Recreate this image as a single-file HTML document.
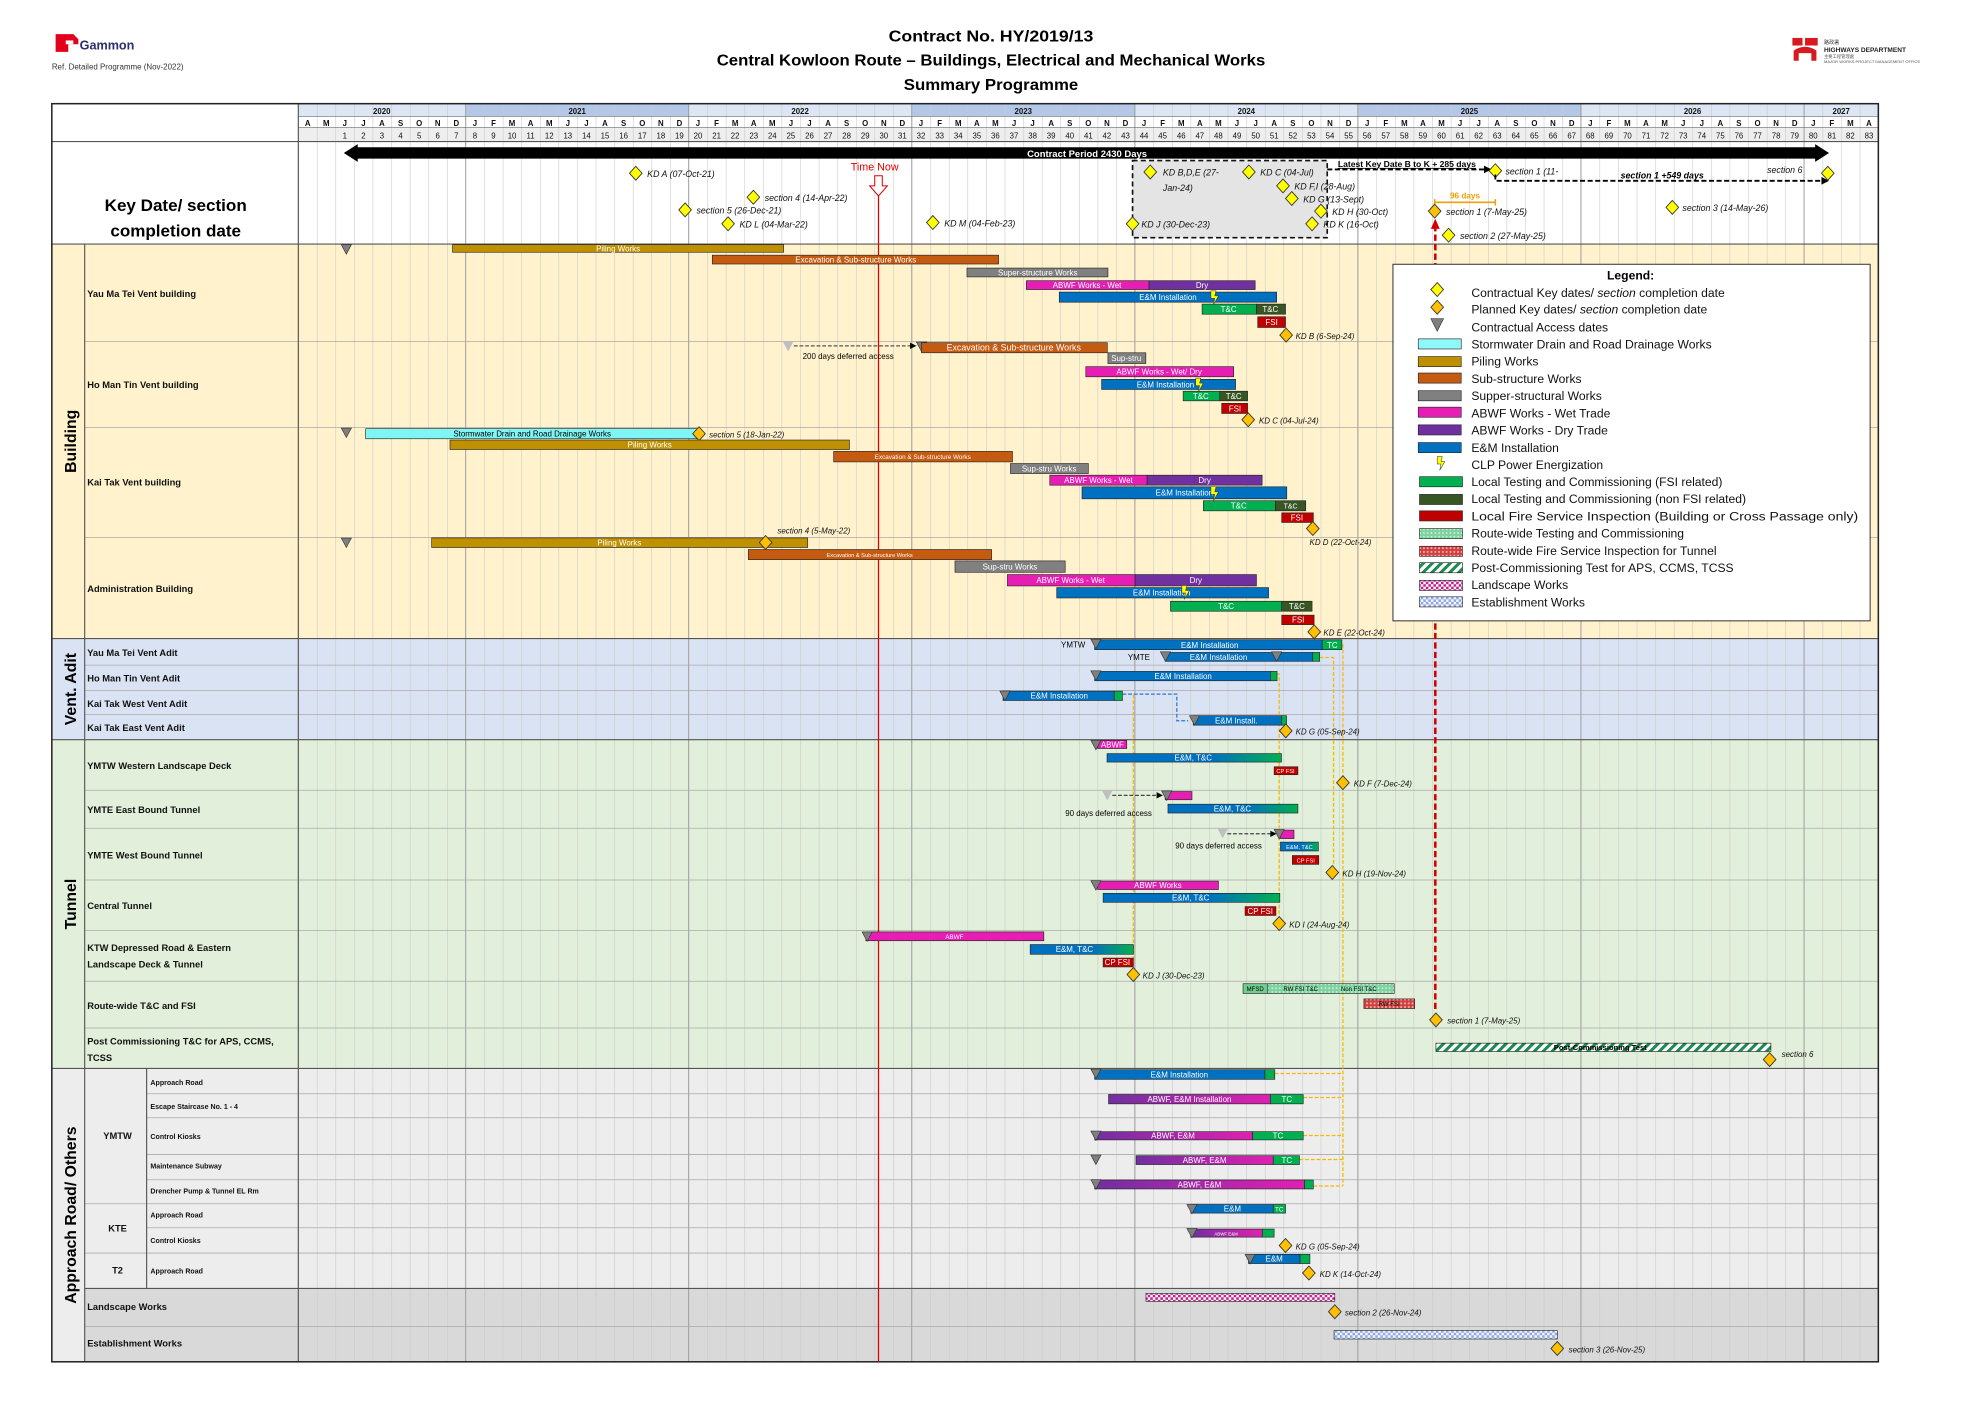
<!DOCTYPE html>
<html><head><meta charset="utf-8"><style>
html,body{margin:0;padding:0;background:#fff}
svg{display:block}
text{font-family:"Liberation Sans",sans-serif}
.b{stroke:#222;stroke-width:.5}
.w{fill:#fff;font-size:6.3px;text-anchor:middle}
.k{fill:#000;font-size:6.3px;text-anchor:middle}
.it{font-style:italic;font-size:7px;fill:#111}
.rl{font-weight:bold;font-size:7.4px;fill:#111}
.sl{font-weight:bold;font-size:5.6px;fill:#111}
.lg{font-size:9.6px;fill:#111}
.hd{font-size:6.2px;font-weight:bold;fill:#111;text-anchor:middle}
</style></head><body>
<svg width="1982" height="1401" viewBox="0 0 1568 1108" preserveAspectRatio="none" xmlns="http://www.w3.org/2000/svg">
<defs>
<pattern id="grid" x="236" y="0" width="14.706" height="10" patternUnits="userSpaceOnUse"><line x1="0.2" y1="0" x2="0.2" y2="10" stroke="#c8c8c8" stroke-width="0.5"/></pattern>
<pattern id="hgreen" width="3" height="3" patternUnits="userSpaceOnUse"><rect width="3" height="3" fill="#7ed3a0"/><circle cx="1.5" cy="1.5" r=".7" fill="#d8f5e2"/></pattern>
<pattern id="hred" width="3" height="3" patternUnits="userSpaceOnUse"><rect width="3" height="3" fill="#d04040"/><circle cx="1.5" cy="1.5" r=".8" fill="#f4b0b0"/></pattern>
<pattern id="diag" width="5" height="5" patternUnits="userSpaceOnUse" patternTransform="rotate(45)"><rect width="5" height="5" fill="#fff"/><rect width="2.4" height="5" fill="#1a8a50"/></pattern>
<pattern id="chkp" width="4" height="4" patternUnits="userSpaceOnUse"><rect width="4" height="4" fill="#fff"/><rect width="2" height="2" fill="#c0208c"/><rect x="2" y="2" width="2" height="2" fill="#c0208c"/></pattern>
<pattern id="chkb" width="4" height="4" patternUnits="userSpaceOnUse"><rect width="4" height="4" fill="#f4f7ff"/><rect width="2" height="2" fill="#8fa8e0"/><rect x="2" y="2" width="2" height="2" fill="#8fa8e0"/></pattern>
<linearGradient id="gEM" x1="0" x2="1"><stop offset="0" stop-color="#0070c0"/><stop offset=".6" stop-color="#0070c0"/><stop offset="1" stop-color="#00b050"/></linearGradient>
<linearGradient id="gAB" x1="0" x2="1"><stop offset="0" stop-color="#7030a0"/><stop offset="1" stop-color="#e020b0"/></linearGradient>
<g id="dY"><path d="M0,-5.5 L5,0 0,5.5 -5,0Z" fill="#ffff00" stroke="#333" stroke-width=".7"/></g>
<g id="dO"><path d="M0,-5.5 L5,0 0,5.5 -5,0Z" fill="#ffc000" stroke="#333" stroke-width=".7"/></g>
<g id="tr"><path d="M-4,-3.5 L4,-3.5 0,4Z" fill="#7f7f7f" stroke="#333" stroke-width=".5"/></g>
<g id="trl"><path d="M-4,-3.5 L4,-3.5 0,4Z" fill="#bfbfbf"/></g>
<g id="lt"><path d="M-3,-5 L1,-5 0,-1 3,-1 -1,6 0,1 -3,1Z" fill="#ffff00" stroke="#333" stroke-width=".4"/></g>
</defs>

<path d="M44,27 h14 l4,4 v4 h-8 v6 h-10z" fill="#e3001b"/>
<rect x="52" y="32" width="6" height="3" fill="#fff"/>
<text x="63" y="39" font-weight="bold" font-size="10" fill="#2b2f6b">Gammon</text>
<text x="41" y="55" font-size="6.3" fill="#333">Ref. Detailed Programme (Nov-2022)</text>
<text x="784" y="33" font-weight="bold" font-size="12.5" text-anchor="middle" textLength="162" lengthAdjust="spacingAndGlyphs">Contract No. HY/2019/13</text>
<text x="784" y="52" font-weight="bold" font-size="12.5" text-anchor="middle" textLength="434" lengthAdjust="spacingAndGlyphs">Central Kowloon Route – Buildings, Electrical and Mechanical Works</text>
<text x="784" y="71" font-weight="bold" font-size="12.5" text-anchor="middle" textLength="138" lengthAdjust="spacingAndGlyphs">Summary Programme</text>
<rect x="1418" y="30" width="8" height="6" fill="#d71920"/><rect x="1428" y="30" width="10" height="6" fill="#d71920"/>
<path d="M1419,48 v-8 q9,-6 18,0 v8 h-4 v-6 h-10 v6z" fill="#d71920"/>
<text x="1443" y="35" font-size="4" fill="#333">路政署</text>
<text x="1443" y="41" font-size="5.2" font-weight="bold" fill="#222">HIGHWAYS DEPARTMENT</text>
<text x="1443" y="46" font-size="3.4" fill="#555">主要工程管理處</text>
<text x="1443" y="50" font-size="3.2" fill="#555">MAJOR WORKS PROJECT MANAGEMENT OFFICE</text>

<rect x="41" y="112" width="1445" height="81" fill="#fff"/>
<rect x="41" y="193" width="1445" height="312" fill="#fff2cc"/>
<rect x="41" y="505" width="1445" height="80" fill="#dae3f3"/>
<rect x="41" y="585" width="1445" height="260" fill="#e2efda"/>
<rect x="41" y="845" width="1445" height="232" fill="#ededed"/>
<rect x="67" y="1019" width="1419" height="58" fill="#d9d9d9"/>
<rect x="236" y="82" width="132.4" height="10" fill="#dce6f4"/>
<rect x="368.4" y="82" width="176.4" height="10" fill="#b4c7e7"/>
<rect x="544.8" y="82" width="176.5" height="10" fill="#dce6f4"/>
<rect x="721.3" y="82" width="176.5" height="10" fill="#b4c7e7"/>
<rect x="897.8" y="82" width="176.4" height="10" fill="#dce6f4"/>
<rect x="1074.2" y="82" width="176.5" height="10" fill="#b4c7e7"/>
<rect x="1250.7" y="82" width="176.5" height="10" fill="#dce6f4"/>
<rect x="1427.2" y="82" width="58.8" height="10" fill="#dce6f4"/>
<rect x="236" y="101" width="1250" height="11" fill="#eeeeee"/>
<rect x="236" y="82" width="1250" height="995" fill="url(#grid)"/>
<g stroke="#999" stroke-width=".7">
<line x1="368.4" y1="82" x2="368.4" y2="1077"/><line x1="544.8" y1="82" x2="544.8" y2="1077"/><line x1="721.3" y1="82" x2="721.3" y2="1077"/><line x1="897.8" y1="82" x2="897.8" y2="1077"/><line x1="1074.2" y1="82" x2="1074.2" y2="1077"/><line x1="1250.7" y1="82" x2="1250.7" y2="1077"/><line x1="1427.2" y1="82" x2="1427.2" y2="1077"/>
</g>
<g stroke="#666" stroke-width=".5">
<line x1="236" y1="92" x2="1486" y2="92"/><line x1="236" y1="101" x2="1486" y2="101"/>
</g>
<text class="hd" y="90"><tspan x="302">2020</tspan><tspan x="456.6">2021</tspan><tspan x="633">2022</tspan><tspan x="809.5">2023</tspan><tspan x="986">2024</tspan><tspan x="1162.5">2025</tspan><tspan x="1339">2026</tspan><tspan x="1456.6">2027</tspan></text>
<text class="hd" y="99.5" text-anchor="middle" x="243.4 258.1 272.8 287.5 302.2 316.9 331.6 346.3 361 375.7 390.4 405.1 419.8 434.5 449.2 463.9 478.6 493.4 508.1 522.8 537.5 552.2 566.9 581.6 596.3 611 625.7 640.4 655.1 669.8 684.5 699.2 713.9 728.6 743.4 758.1 772.8 787.5 802.2 816.9 831.6 846.3 861 875.7 890.4 905.1 919.8 934.5 949.2 963.9 978.6 993.4 1008.1 1022.8 1037.5 1052.2 1066.9 1081.6 1096.3 1111 1125.7 1140.4 1155.1 1169.8 1184.5 1199.2 1213.9 1228.6 1243.4 1258.1 1272.8 1287.5 1302.2 1316.9 1331.6 1346.3 1361 1375.7 1390.4 1405.1 1419.8 1434.5 1449.2 1463.9 1478.6">AMJJASONDJFMAMJJASONDJFMAMJJASONDJFMAMJJASONDJFMAMJJASONDJFMAMJJASONDJFMAMJJASONDJFMA</text>
<text class="hd" y="109.5" style="font-weight:normal"><tspan x="272.8">1</tspan><tspan x="287.5">2</tspan><tspan x="302.2">3</tspan><tspan x="316.9">4</tspan><tspan x="331.6">5</tspan><tspan x="346.3">6</tspan><tspan x="361">7</tspan><tspan x="375.7">8</tspan><tspan x="390.4">9</tspan><tspan x="405.1">10</tspan><tspan x="419.8">11</tspan><tspan x="434.5">12</tspan><tspan x="449.2">13</tspan><tspan x="463.9">14</tspan><tspan x="478.6">15</tspan><tspan x="493.4">16</tspan><tspan x="508.1">17</tspan><tspan x="522.8">18</tspan><tspan x="537.5">19</tspan><tspan x="552.2">20</tspan><tspan x="566.9">21</tspan><tspan x="581.6">22</tspan><tspan x="596.3">23</tspan><tspan x="611">24</tspan><tspan x="625.7">25</tspan><tspan x="640.4">26</tspan><tspan x="655.1">27</tspan><tspan x="669.8">28</tspan><tspan x="684.5">29</tspan><tspan x="699.2">30</tspan><tspan x="713.9">31</tspan><tspan x="728.6">32</tspan><tspan x="743.4">33</tspan><tspan x="758.1">34</tspan><tspan x="772.8">35</tspan><tspan x="787.5">36</tspan><tspan x="802.2">37</tspan><tspan x="816.9">38</tspan><tspan x="831.6">39</tspan><tspan x="846.3">40</tspan><tspan x="861">41</tspan><tspan x="875.7">42</tspan><tspan x="890.4">43</tspan><tspan x="905.1">44</tspan><tspan x="919.8">45</tspan><tspan x="934.5">46</tspan><tspan x="949.2">47</tspan><tspan x="963.9">48</tspan><tspan x="978.6">49</tspan><tspan x="993.4">50</tspan><tspan x="1008.1">51</tspan><tspan x="1022.8">52</tspan><tspan x="1037.5">53</tspan><tspan x="1052.2">54</tspan><tspan x="1066.9">55</tspan><tspan x="1081.6">56</tspan><tspan x="1096.3">57</tspan><tspan x="1111">58</tspan><tspan x="1125.7">59</tspan><tspan x="1140.4">60</tspan><tspan x="1155.1">61</tspan><tspan x="1169.8">62</tspan><tspan x="1184.5">63</tspan><tspan x="1199.2">64</tspan><tspan x="1213.9">65</tspan><tspan x="1228.6">66</tspan><tspan x="1243.4">67</tspan><tspan x="1258.1">68</tspan><tspan x="1272.8">69</tspan><tspan x="1287.5">70</tspan><tspan x="1302.2">71</tspan><tspan x="1316.9">72</tspan><tspan x="1331.6">73</tspan><tspan x="1346.3">74</tspan><tspan x="1361">75</tspan><tspan x="1375.7">76</tspan><tspan x="1390.4">77</tspan><tspan x="1405.1">78</tspan><tspan x="1419.8">79</tspan><tspan x="1434.5">80</tspan><tspan x="1449.2">81</tspan><tspan x="1463.9">82</tspan><tspan x="1478.6">83</tspan></text>

<rect x="41" y="82" width="195" height="111" fill="#fff"/>
<rect x="41" y="193" width="195" height="312" fill="#fff2cc"/>
<rect x="41" y="505" width="195" height="80" fill="#dae3f3"/>
<rect x="41" y="585" width="195" height="260" fill="#e2efda"/>
<rect x="41" y="845" width="195" height="232" fill="#ededed"/>
<rect x="67" y="1019" width="169" height="58" fill="#d9d9d9"/>

<g stroke="#aaa" stroke-width=".6">
<line x1="67" y1="270" x2="1486" y2="270"/><line x1="67" y1="338" x2="1486" y2="338"/><line x1="67" y1="425" x2="1486" y2="425"/>
<line x1="67" y1="526" x2="1486" y2="526"/><line x1="67" y1="546" x2="1486" y2="546"/><line x1="67" y1="565" x2="1486" y2="565"/>
<line x1="67" y1="625" x2="1486" y2="625"/><line x1="67" y1="655" x2="1486" y2="655"/><line x1="67" y1="696" x2="1486" y2="696"/><line x1="67" y1="736" x2="1486" y2="736"/><line x1="67" y1="776" x2="1486" y2="776"/><line x1="67" y1="813" x2="1486" y2="813"/>
<line x1="116" y1="865" x2="1486" y2="865"/><line x1="116" y1="884" x2="1486" y2="884"/><line x1="116" y1="913" x2="1486" y2="913"/><line x1="116" y1="933" x2="1486" y2="933"/><line x1="67" y1="952" x2="1486" y2="952"/><line x1="116" y1="971" x2="1486" y2="971"/><line x1="67" y1="991" x2="1486" y2="991"/><line x1="67" y1="1049" x2="1486" y2="1049"/>
</g>
<g stroke="#555" stroke-width=".9">
<line x1="41" y1="112" x2="1486" y2="112"/><line x1="41" y1="193" x2="1486" y2="193"/><line x1="41" y1="505" x2="1486" y2="505"/><line x1="41" y1="585" x2="1486" y2="585"/><line x1="41" y1="845" x2="1486" y2="845"/><line x1="67" y1="1019" x2="1486" y2="1019"/>
<line x1="67" y1="193" x2="67" y2="1077"/><line x1="236" y1="82" x2="236" y2="1077"/><line x1="116" y1="845" x2="116" y2="1019"/>
</g>
<rect x="41" y="82" width="1445" height="995" fill="none" stroke="#222" stroke-width="1.2"/>

<text x="139" y="167" text-anchor="middle" font-size="13.5" font-weight="bold">Key Date/ section</text>
<text x="139" y="187" text-anchor="middle" font-size="13.5" font-weight="bold">completion date</text>
<g font-weight="bold" font-size="12.5" text-anchor="middle">
<text transform="rotate(-90 60 349)" x="60" y="349">Building</text>
<text transform="rotate(-90 60 545)" x="60" y="545">Vent. Adit</text>
<text transform="rotate(-90 60 715)" x="60" y="715">Tunnel</text>
<text transform="rotate(-90 60 961)" x="60" y="961">Approach Road/ Others</text>
</g>
<text class="rl" x="69" y="235">Yau Ma Tei Vent building</text>
<text class="rl" x="69" y="307">Ho Man Tin Vent building</text>
<text class="rl" x="69" y="384">Kai Tak Vent building</text>
<text class="rl" x="69" y="468">Administration Building</text>
<text class="rl" x="69" y="519">Yau Ma Tei Vent Adit</text>
<text class="rl" x="69" y="539">Ho Man Tin Vent Adit</text>
<text class="rl" x="69" y="559">Kai Tak West Vent Adit</text>
<text class="rl" x="69" y="578">Kai Tak East Vent Adit</text>
<text class="rl" x="69" y="608">YMTW Western Landscape Deck</text>
<text class="rl" x="69" y="643">YMTE East Bound Tunnel</text>
<text class="rl" x="69" y="679">YMTE West Bound Tunnel</text>
<text class="rl" x="69" y="719">Central Tunnel</text>
<text class="rl" x="69" y="752">KTW Depressed Road &amp; Eastern</text>
<text class="rl" x="69" y="765">Landscape Deck &amp; Tunnel</text>
<text class="rl" x="69" y="798">Route-wide T&amp;C and FSI</text>
<text class="rl" x="69" y="826">Post Commissioning T&amp;C for APS, CCMS,</text>
<text class="rl" x="69" y="839">TCSS</text>
<text class="rl" x="93" y="901" text-anchor="middle">YMTW</text>
<text class="rl" x="93" y="974" text-anchor="middle">KTE</text>
<text class="rl" x="93" y="1007" text-anchor="middle">T2</text>
<text class="sl" x="119" y="858">Approach Road</text>
<text class="sl" x="119" y="877">Escape Staircase No. 1 - 4</text>
<text class="sl" x="119" y="901">Control Kiosks</text>
<text class="sl" x="119" y="924">Maintenance Subway</text>
<text class="sl" x="119" y="944">Drencher Pump &amp; Tunnel EL Rm</text>
<text class="sl" x="119" y="963">Approach Road</text>
<text class="sl" x="119" y="983">Control Kiosks</text>
<text class="sl" x="119" y="1007">Approach Road</text>
<text class="rl" x="69" y="1036">Landscape Works</text>
<text class="rl" x="69" y="1065">Establishment Works</text>

<rect x="896" y="127" width="154" height="61" fill="#e4e4e4" stroke="#111" stroke-width="1.3" stroke-dasharray="4,2.5"/>
<path d="M272,121 L283,114 V116.5 H1436 V114 L1447,121 L1436,128 V125.5 H283 V128Z" fill="#000"/>
<text x="860" y="124" fill="#fff" font-weight="bold" font-size="7.5" text-anchor="middle">Contract Period 2430 Days</text>
<use href="#dY" x="503" y="137"/><text class="it" x="512" y="140">KD A (07-Oct-21)</text>
<use href="#dY" x="596" y="156"/><text class="it" x="605" y="159">section 4 (14-Apr-22)</text>
<use href="#dY" x="542" y="166"/><text class="it" x="551" y="169">section 5 (26-Dec-21)</text>
<use href="#dY" x="576" y="177"/><text class="it" x="585" y="180">KD L (04-Mar-22)</text>
<use href="#dY" x="738" y="176"/><text class="it" x="747" y="179">KD M (04-Feb-23)</text>
<use href="#dY" x="910" y="136"/><text class="it" x="920" y="139">KD B,D,E (27-</text><text class="it" x="920" y="151">Jan-24)</text>
<use href="#dY" x="988" y="136"/><text class="it" x="997" y="139">KD C (04-Jul)</text>
<use href="#dY" x="1015" y="147"/><text class="it" x="1024" y="150">KD F,I (28-Aug)</text>
<use href="#dY" x="1022" y="157"/><text class="it" x="1031" y="160">KD G (13-Sept)</text>
<use href="#dY" x="1045" y="167"/><text class="it" x="1054" y="170">KD H (30-Oct)</text>
<use href="#dY" x="1038" y="177"/><text class="it" x="1047" y="180">KD K (16-Oct)</text>
<use href="#dY" x="896" y="177"/><text class="it" x="903" y="180">KD J (30-Dec-23)</text>
<line x1="1050" y1="134" x2="1175" y2="134" stroke="#000" stroke-width="1.4" stroke-dasharray="4,2"/><path d="M1174,131 L1180,134 1174,137Z"/>
<text x="1113" y="132" font-weight="bold" font-size="6.8" text-anchor="middle" text-decoration="underline">Latest Key Date B to K + 285 days</text>
<use href="#dY" x="1183" y="135"/><text class="it" x="1191" y="138">section 1 (11-</text>
<path d="M1183,138 V143 H1442" fill="none" stroke="#000" stroke-width="1.4" stroke-dasharray="4,2"/><path d="M1441,140 L1447,143 1441,146Z"/>
<text x="1315" y="141" font-weight="bold" font-style="italic" font-size="7" text-anchor="middle">section 1 +549 days</text>
<text class="it" x="1398" y="137">section 6</text><use href="#dY" x="1446" y="137"/>
<use href="#dY" x="1323" y="164"/><text class="it" x="1331" y="167">section 3 (14-May-26)</text>
<text x="1159" y="157" font-weight="bold" font-size="6.5" fill="#f0a000" text-anchor="middle">96 days</text>
<path d="M1135,160 H1183 M1135,157.5 V162.5 M1183,157.5 V162.5" stroke="#f0a000" stroke-width="1.2" fill="none"/>
<use href="#dY" x="1146" y="186"/><text class="it" x="1155" y="189">section 2 (27-May-25)</text>
<line x1="1135.5" y1="178" x2="1135.5" y2="800" stroke="#d00000" stroke-width="2" stroke-dasharray="5,2.5"/>
<path d="M1132,181 L1135.5,173 1139,181Z" fill="#d00000"/>
<use href="#dO" x="1135" y="167"/><text class="it" x="1144" y="170">section 1 (7-May-25)</text>

<line x1="695" y1="155" x2="695" y2="1077" stroke="#e00000" stroke-width="1"/>
<text x="692" y="135" fill="#e00000" font-size="8.5" text-anchor="middle">Time Now</text>
<path d="M692,139 H698 V147 H702 L695,155 688,147 H692Z" fill="#fff" stroke="#e00000" stroke-width=".8"/>

<use href="#tr" x="274" y="197"/>
<rect class="b" x="358" y="193.5" width="262" height="6" fill="#bf9000"/><text class="w" x="489" y="198.8">Piling Works</text>
<rect class="b" x="563.5" y="201.8" width="226.5" height="7" fill="#c55a11"/><text class="w" x="677" y="207.5">Excavation &amp; Sub-structure Works</text>
<rect class="b" x="765" y="212" width="111.5" height="7" fill="#808080"/><text class="w" x="821" y="217.8">Super-structure Works</text>
<rect class="b" x="812" y="222" width="97" height="7" fill="#e61eb4"/><text class="w" x="860" y="227.8">ABWF Works - Wet</text>
<rect class="b" x="909" y="222" width="84" height="7" fill="#7030a0"/><text class="w" x="951" y="227.8">Dry</text>
<rect class="b" x="838" y="231" width="172" height="8" fill="#0070c0"/><text class="w" x="924" y="237.3">E&amp;M Installation</text>
<rect class="b" x="951" y="240.5" width="43" height="8" fill="#00b050"/><text class="w" x="972" y="246.8">T&amp;C</text>
<rect class="b" x="994" y="240.5" width="23" height="8" fill="#375623"/><text class="w" x="1005" y="246.8">T&amp;C</text>
<rect class="b" x="995" y="250.5" width="22" height="8.5" fill="#c00000"/><text class="w" x="1006" y="257">FSI</text>
<use href="#lt" x="961" y="235"/>
<use href="#dO" x="1017.5" y="265"/><text class="it" x="1025" y="268" style="font-size:6.3px">KD B (6-Sep-24)</text>

<use href="#trl" x="623.5" y="274"/>
<line x1="628" y1="273.5" x2="722" y2="273.5" stroke="#555" stroke-width="1" stroke-dasharray="3,1.5"/><path d="M720,271 L725,273.5 720,276Z"/>
<use href="#tr" x="729" y="274"/>
<text x="671" y="284" font-size="6.3" text-anchor="middle">200 days deferred access</text>
<rect class="b" x="729" y="271" width="147" height="8" fill="#c55a11"/><text class="w" x="802" y="277.3" style="font-size:7px">Excavation &amp; Sub-structure Works</text>
<rect class="b" x="876.5" y="279" width="30" height="8.5" fill="#808080"/><text class="w" x="891" y="285.5">Sup-stru</text>
<rect class="b" x="859" y="290" width="117" height="8" fill="#e61eb4"/><text class="w" x="917" y="296.3">ABWF Works - Wet/ Dry</text>
<rect class="b" x="871.5" y="300" width="106" height="8" fill="#0070c0"/><text class="w" x="922" y="306.3">E&amp;M Installation</text>
<rect class="b" x="936" y="309.4" width="29" height="7.6" fill="#00b050"/><text class="w" x="950" y="315.5">T&amp;C</text>
<rect class="b" x="965" y="309.4" width="22" height="7.6" fill="#375623"/><text class="w" x="976" y="315.5">T&amp;C</text>
<rect class="b" x="966.5" y="319" width="20.5" height="8" fill="#c00000"/><text class="w" x="977" y="325.3">FSI</text>
<use href="#lt" x="949" y="304"/>
<use href="#dO" x="987.5" y="332"/><text class="it" x="996" y="335" style="font-size:6.3px">KD C (04-Jul-24)</text>

<use href="#tr" x="274" y="342"/>
<rect class="b" x="289.3" y="339" width="263.7" height="8" fill="#7ff5f5"/><text class="k" x="421" y="345.3">Stormwater Drain and Road Drainage Works</text>
<use href="#dO" x="553" y="343"/><text class="it" x="561" y="346" style="font-size:6.3px">section 5 (18-Jan-22)</text>
<rect class="b" x="356" y="348" width="316" height="7.5" fill="#bf9000"/><text class="w" x="514" y="354">Piling Works</text>
<rect class="b" x="659.5" y="357" width="141.5" height="8.3" fill="#c55a11"/><text class="w" x="730" y="363" style="font-size:5px">Excavation &amp; Sub-structure Works</text>
<rect class="b" x="799.4" y="366.6" width="61.6" height="7.9" fill="#808080"/><text class="w" x="830" y="372.8">Sup-stru Works</text>
<rect class="b" x="830.5" y="375.8" width="77" height="7.9" fill="#e61eb4"/><text class="w" x="869" y="382">ABWF Works - Wet</text>
<rect class="b" x="907.5" y="375.8" width="91" height="7.9" fill="#7030a0"/><text class="w" x="953" y="382">Dry</text>
<rect class="b" x="856" y="385" width="162" height="9.5" fill="#0070c0"/><text class="w" x="937" y="392">E&amp;M Installation</text>
<rect class="b" x="952" y="396" width="57" height="8" fill="#00b050"/><text class="w" x="980" y="402.3">T&amp;C</text>
<rect class="b" x="1009" y="396" width="24" height="8" fill="#375623"/><text class="w" x="1021" y="402.3" style="font-size:5.5px">T&amp;C</text>
<rect class="b" x="1014" y="405.6" width="25" height="7.6" fill="#c00000"/><text class="w" x="1026" y="411.6">FSI</text>
<use href="#lt" x="961" y="390"/>
<use href="#dO" x="1038.6" y="418"/><text class="it" x="1036" y="431" style="font-size:6.3px">KD D (22-Oct-24)</text>

<text class="it" x="615" y="422" style="font-size:6.3px">section 4 (5-May-22)</text>
<use href="#tr" x="274" y="429"/>
<rect class="b" x="341.5" y="425.4" width="297.5" height="7.6" fill="#bf9000"/><text class="w" x="490" y="431.5">Piling Works</text>
<use href="#dO" x="605.7" y="429"/>
<rect class="b" x="592" y="434.6" width="192.5" height="8" fill="#c55a11"/><text class="w" x="688" y="440.5" style="font-size:4.5px">Excavation &amp; Sub-structure Works</text>
<rect class="b" x="755.5" y="443.6" width="87.2" height="9" fill="#808080"/><text class="w" x="799" y="450.5">Sup-stru Works</text>
<rect class="b" x="797" y="454.4" width="101" height="9" fill="#e61eb4"/><text class="w" x="847" y="461.2">ABWF Works - Wet</text>
<rect class="b" x="898" y="454.4" width="96" height="9" fill="#7030a0"/><text class="w" x="946" y="461.2">Dry</text>
<rect class="b" x="836" y="464.7" width="167.6" height="8.2" fill="#0070c0"/><text class="w" x="919" y="471">E&amp;M Installation</text>
<rect class="b" x="926" y="475.5" width="88" height="7.9" fill="#00b050"/><text class="w" x="970" y="481.7">T&amp;C</text>
<rect class="b" x="1014" y="475.5" width="24" height="7.9" fill="#375623"/><text class="w" x="1026" y="481.7">T&amp;C</text>
<rect class="b" x="1014" y="486.5" width="25.6" height="7.5" fill="#c00000"/><text class="w" x="1027" y="492.4">FSI</text>
<use href="#lt" x="938" y="468"/>
<use href="#dO" x="1039.7" y="499.7"/><text class="it" x="1047" y="502.5" style="font-size:6.3px">KD E (22-Oct-24)</text>

<rect x="1102" y="209" width="377.5" height="282" fill="#fff" stroke="#333" stroke-width=".8"/>
<text x="1290" y="221" font-weight="bold" font-size="9.6" text-anchor="middle">Legend:</text>
<use href="#dY" x="1137" y="229"/>
<use href="#dO" x="1137" y="243"/>
<path d="M1132,252 L1142,252 1137,262Z" fill="#7f7f7f" stroke="#333" stroke-width=".5"/>
<g class="b" stroke-width=".7">
<rect x="1122" y="268" width="34" height="8" fill="#8ff8f8"/>
<rect x="1122" y="282" width="34" height="8" fill="#bf9000"/>
<rect x="1122" y="295" width="34" height="8" fill="#c55a11"/>
<rect x="1122" y="309" width="34" height="8" fill="#808080"/>
<rect x="1122" y="322" width="34" height="8" fill="#e61eb4"/>
<rect x="1122" y="336" width="34" height="8" fill="#7030a0"/>
<rect x="1122" y="350" width="34" height="8" fill="#0070c0"/>
<rect x="1123" y="377" width="34" height="8" fill="#00b050"/>
<rect x="1123" y="391" width="34" height="8" fill="#375623"/>
<rect x="1123" y="404" width="34" height="8" fill="#c00000"/>
<rect x="1123" y="418" width="34" height="8" fill="url(#hgreen)"/>
<rect x="1123" y="432" width="34" height="8" fill="url(#hred)"/>
<rect x="1123" y="445" width="34" height="8" fill="url(#diag)"/>
<rect x="1123" y="459" width="34" height="8" fill="url(#chkp)"/>
<rect x="1123" y="472" width="34" height="8" fill="url(#chkb)"/>
</g>
<use href="#lt" x="1140" y="366"/>
<g class="lg">
<text x="1164" y="235">Contractual Key dates/ <tspan font-style="italic">section</tspan> completion date</text>
<text x="1164" y="248">Planned Key dates/ <tspan font-style="italic">section</tspan> completion date</text>
<text x="1164" y="262">Contractual Access dates</text>
<text x="1164" y="275.5">Stormwater Drain and Road Drainage Works</text>
<text x="1164" y="289">Piling Works</text>
<text x="1164" y="303">Sub-structure Works</text>
<text x="1164" y="316.5">Supper-structural Works</text>
<text x="1164" y="330">ABWF Works - Wet Trade</text>
<text x="1164" y="343.5">ABWF Works - Dry Trade</text>
<text x="1164" y="357.5">E&amp;M Installation</text>
<text x="1164" y="371">CLP Power Energization</text>
<text x="1164" y="384.5">Local Testing and Commissioning (FSI related)</text>
<text x="1164" y="398">Local Testing and Commissioning (non FSI related)</text>
<text x="1164" y="411.5" textLength="306" lengthAdjust="spacingAndGlyphs">Local Fire Service Inspection (Building or Cross Passage only)</text>
<text x="1164" y="425">Route-wide Testing and Commissioning</text>
<text x="1164" y="439">Route-wide Fire Service Inspection for Tunnel</text>
<text x="1164" y="452.5">Post-Commissioning Test for APS, CCMS, TCSS</text>
<text x="1164" y="466">Landscape Works</text>
<text x="1164" y="479.5">Establishment Works</text>
</g>

<g stroke="#f5b800" stroke-width="1" stroke-dasharray="3,1.5" fill="none">
<path d="M888,549 H896.6 V766"/>
<path d="M1010,533 H1012 V725"/>
<path d="M1044,520 H1055 V685"/>
<path d="M1061.6,510 H1062.4 V938"/>
<path d="M1008.5,849 H1062.4"/><path d="M1031,868 H1062.4"/><path d="M1031,898 H1062.4"/><path d="M1028,917 H1062.4"/><path d="M1039,938 H1062.4"/>
</g>

<text x="849" y="512" font-size="6.3" text-anchor="middle">YMTW</text>
<rect class="b" x="866" y="506" width="180" height="7.8" fill="#0070c0"/><text class="w" x="957" y="512.3">E&amp;M Installation</text>
<rect class="b" x="1046" y="506" width="15.6" height="7.8" fill="#00b050"/><text class="w" x="1054" y="512.3">TC</text>
<use href="#tr" x="867" y="509"/>
<text x="901" y="522" font-size="6.3" text-anchor="middle">YMTE</text>
<rect class="b" x="921.8" y="516" width="116.7" height="7" fill="#0070c0"/><text class="w" x="964" y="521.8">E&amp;M Installation</text>
<rect class="b" x="1038.5" y="516" width="5.5" height="7" fill="#00b050"/>
<use href="#tr" x="922" y="519"/><use href="#tr" x="1010" y="519"/>
<rect class="b" x="866" y="531" width="139" height="7.4" fill="#0070c0"/><text class="w" x="936" y="537">E&amp;M Installation</text>
<rect class="b" x="1005" y="531" width="5.3" height="7.4" fill="#00b050"/>
<use href="#tr" x="867" y="534"/>
<rect class="b" x="793.5" y="546.6" width="88" height="7.4" fill="#0070c0"/><text class="w" x="838" y="552.5">E&amp;M Installation</text>
<rect class="b" x="881.5" y="546.6" width="6.5" height="7.4" fill="#00b050"/>
<use href="#tr" x="795" y="550"/>
<path d="M888,549 H931 V570 H940" fill="none" stroke="#2e75d6" stroke-width="1" stroke-dasharray="3,1.5"/>
<rect class="b" x="944" y="566" width="69.8" height="7.5" fill="#0070c0"/><text class="w" x="978" y="572">E&amp;M Install.</text>
<rect class="b" x="1013.8" y="566" width="4" height="7.5" fill="#00b050"/>
<use href="#tr" x="945" y="569.5"/>
<use href="#dO" x="1017.2" y="578"/><text class="it" x="1025" y="581" style="font-size:6.3px">KD G (05-Sep-24)</text>

<rect class="b" x="868.4" y="585.5" width="23" height="6.5" fill="#e61eb4"/><text class="w" x="880" y="591">ABWF</text>
<use href="#tr" x="867" y="589"/>
<rect class="b" x="875.8" y="596" width="138" height="6.7" fill="url(#gEM)"/><text class="w" x="944" y="601.5">E&amp;M, T&amp;C</text>
<rect class="b" x="1008" y="606.4" width="18.8" height="6.3" fill="#c00000"/><text class="w" x="1017" y="611.5" style="font-size:4.5px">CP FSI</text>
<use href="#dO" x="1062.4" y="619"/><text class="it" x="1071" y="622" style="font-size:6.3px">KD F (7-Dec-24)</text>

<use href="#trl" x="876" y="629"/>
<line x1="880" y1="629" x2="916" y2="629" stroke="#444" stroke-width="1" stroke-dasharray="3,1.5"/><path d="M915,626.5 L920,629 915,631.5Z"/>
<rect class="b" x="921.8" y="626" width="21.2" height="6.5" fill="#e61eb4"/>
<use href="#tr" x="923" y="629"/>
<text x="877" y="645.5" font-size="6.3" text-anchor="middle">90 days deferred access</text>
<rect class="b" x="924" y="636" width="102.8" height="7" fill="url(#gEM)"/><text class="w" x="975" y="641.8">E&amp;M, T&amp;C</text>

<use href="#trl" x="967.3" y="659"/>
<line x1="971" y1="659.4" x2="1006" y2="659.4" stroke="#444" stroke-width="1" stroke-dasharray="3,1.5"/><path d="M1005,657 L1010,659.4 1005,662Z"/>
<rect class="b" x="1013" y="656.5" width="10.7" height="6.7" fill="#e61eb4"/>
<use href="#tr" x="1012" y="659.5"/>
<text x="964" y="671" font-size="6.3" text-anchor="middle">90 days deferred access</text>
<rect class="b" x="1013" y="666" width="30" height="7" fill="url(#gEM)"/><text class="w" x="1028" y="671.5" style="font-size:4.5px">E&amp;M, T&amp;C</text>
<rect class="b" x="1022.4" y="676.6" width="20.9" height="7" fill="#c00000"/><text class="w" x="1033" y="682" style="font-size:4.5px">CP FSI</text>
<use href="#dO" x="1054" y="690"/><text class="it" x="1062" y="693" style="font-size:6.3px">KD H (19-Nov-24)</text>

<rect class="b" x="868.4" y="696.8" width="95.5" height="6.7" fill="#e61eb4"/><text class="w" x="916" y="702.3">ABWF Works</text>
<use href="#tr" x="867" y="700"/>
<rect class="b" x="872.7" y="706.5" width="139.8" height="7.1" fill="url(#gEM)"/><text class="w" x="942" y="712.2">E&amp;M, T&amp;C</text>
<rect class="b" x="985" y="717" width="24.4" height="7" fill="#c00000"/><text class="w" x="997" y="722.7">CP FSI</text>
<use href="#dO" x="1012" y="730.4"/><text class="it" x="1020" y="733.4" style="font-size:6.3px">KD I (24-Aug-24)</text>

<rect class="b" x="685" y="737" width="140.8" height="7" fill="#e61eb4"/><text class="w" x="755" y="742.5" style="font-size:5px">ABWF</text>
<use href="#tr" x="686" y="740.5"/>
<rect class="b" x="815" y="747" width="81.6" height="7.7" fill="url(#gEM)"/><text class="w" x="850" y="753">E&amp;M, T&amp;C</text>
<rect class="b" x="872.7" y="757.7" width="23.9" height="7" fill="#c00000"/><text class="w" x="884" y="763.3">CP FSI</text>
<use href="#dO" x="896.6" y="770.7"/><text class="it" x="904" y="773.7" style="font-size:6.3px">KD J (30-Dec-23)</text>

<rect class="b" x="983.4" y="778" width="19.6" height="7.7" fill="#6fce8f"/><text class="k" x="993" y="783.8" style="font-size:4.8px">MFSD</text>
<rect class="b" x="1003" y="778" width="100" height="7.7" fill="url(#hgreen)"/><text class="k" x="1029" y="783.8" style="font-size:4.8px">RW FSI T&amp;C</text><text class="k" x="1075" y="783.8" style="font-size:4.8px">Non FSI T&amp;C</text>
<rect class="b" x="1079" y="790" width="40.2" height="7.6" fill="url(#hred)"/><text class="k" x="1099" y="795.7" style="font-size:4.8px">RW FSI</text>
<use href="#dO" x="1136" y="806.6"/><text class="it" x="1145" y="809.6" style="font-size:6.3px">section 1 (7-May-25)</text>

<rect class="b" x="1136" y="825" width="265" height="6.6" fill="url(#diag)"/><text class="k" x="1266" y="830.5" style="font-weight:bold;font-size:6px">Post-Commissioning Test</text>
<use href="#dO" x="1400" y="838"/><text class="it" x="1409.5" y="836" style="font-size:6.3px">section 6</text>

<rect class="b" x="866" y="846" width="134.7" height="7.6" fill="#0070c0"/><text class="w" x="933" y="852">E&amp;M Installation</text>
<rect class="b" x="1000.7" y="846" width="7.8" height="7.6" fill="#00b050"/><use href="#tr" x="867" y="849"/>
<rect class="b" x="877" y="865.6" width="128" height="7.4" fill="url(#gAB)"/><text class="w" x="941" y="871.5">ABWF, E&amp;M Installation</text>
<rect class="b" x="1005" y="865.6" width="26" height="7.4" fill="#00b050"/><text class="w" x="1018" y="871.5">TC</text>
<rect class="b" x="866" y="895" width="125" height="6.5" fill="url(#gAB)"/><text class="w" x="928" y="900.5">ABWF, E&amp;M</text>
<rect class="b" x="991" y="895" width="40" height="6.5" fill="#00b050"/><text class="w" x="1011" y="900.5">TC</text><use href="#tr" x="867" y="898"/>
<use href="#tr" x="867" y="917"/>
<rect class="b" x="898.8" y="914" width="108.5" height="7" fill="url(#gAB)"/><text class="w" x="953" y="919.8">ABWF, E&amp;M</text>
<rect class="b" x="1007.3" y="914" width="20.7" height="7" fill="#00b050"/><text class="w" x="1018" y="919.8">TC</text>
<rect class="b" x="866" y="933.2" width="166" height="7.1" fill="url(#gAB)"/><text class="w" x="949" y="939">ABWF, E&amp;M</text>
<rect class="b" x="1032" y="933.2" width="7" height="7.1" fill="#00b050"/><use href="#tr" x="867" y="936.5"/>
<rect class="b" x="942" y="952.6" width="65.3" height="6.8" fill="#0070c0"/><text class="w" x="975" y="958.3">E&amp;M</text>
<rect class="b" x="1007.3" y="952.6" width="9.7" height="6.8" fill="#00b050"/><text class="w" x="1012" y="958.3" style="font-size:5px">TC</text><use href="#tr" x="943" y="956"/>
<rect class="b" x="942" y="972" width="56.6" height="6.4" fill="url(#gAB)"/><text class="w" x="970" y="977" style="font-size:3.5px">ABWF E&amp;M</text>
<rect class="b" x="998.6" y="972" width="9.4" height="6.4" fill="#00b050"/><use href="#tr" x="943" y="975"/>
<use href="#dO" x="1017" y="985"/><text class="it" x="1025" y="988" style="font-size:6.3px">KD G (05-Sep-24)</text>
<rect class="b" x="987.7" y="992" width="40.8" height="7.3" fill="#0070c0"/><text class="w" x="1008" y="997.8">E&amp;M</text>
<rect class="b" x="1028.5" y="992" width="7.8" height="7.3" fill="#00b050"/><use href="#tr" x="989" y="995.5"/>
<use href="#dO" x="1035.5" y="1006.8"/><text class="it" x="1044" y="1009.8" style="font-size:6.3px">KD K (14-Oct-24)</text>
<rect class="b" x="906.6" y="1023" width="149.4" height="6.2" fill="url(#chkp)"/>
<use href="#dO" x="1056" y="1037.4"/><text class="it" x="1064" y="1040.4" style="font-size:6.3px">section 2 (26-Nov-24)</text>
<rect class="b" x="1055.4" y="1052.3" width="176.6" height="6.7" fill="url(#chkb)"/>
<use href="#dO" x="1232" y="1066.5"/><text class="it" x="1241" y="1069.5" style="font-size:6.3px">section 3 (26-Nov-25)</text>
</svg>
</body></html>
